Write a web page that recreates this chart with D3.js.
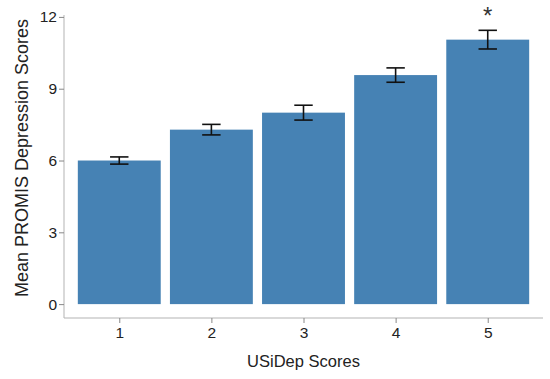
<!DOCTYPE html>
<html>
<head>
<meta charset="utf-8">
<script src="https://cdn.jsdelivr.net/npm/d3@7"></script>
<style>
  body { margin: 0; background: #fff; }
  text { font-family: "Liberation Sans", Arial, sans-serif; }
</style>
</head>
<body>
<div id="chart"></div>
<script>
const categories = ["1", "2", "3", "4", "5"];
const means = [6.0, 7.29, 8.0, 9.57, 11.05];
const errors = [0.15, 0.22, 0.31, 0.3, 0.39];
const yTicks = [0, 3, 6, 9, 12];
const significant = [false, false, false, false, true];

const width = 550, height = 379;
const svg = d3.select("#chart").append("svg")
  .attr("width", width)
  .attr("height", height);

// x in category units (ggplot style expand 0.6)
const x = d3.scaleLinear().domain([0.4, 5.6]).range([64, 543]);
const y = d3.scaleLinear().domain([-0.58, 12.08]).range([318, 15]);
const barW = 0.9, capW = 0.2;

// bars
svg.selectAll("rect.bar")
  .data(means)
  .join("rect")
  .attr("class", "bar")
  .attr("x", (d, i) => x(i + 1 - barW / 2))
  .attr("width", x(barW) - x(0))
  .attr("y", d => y(d))
  .attr("height", d => y(0) - y(d))
  .attr("fill", "#4682b4");

// error bars
const eb = svg.selectAll("g.err").data(means).join("g").attr("class", "err")
  .attr("stroke", "#111").attr("stroke-width", 1.6);
eb.append("line")
  .attr("x1", (d, i) => x(i + 1)).attr("x2", (d, i) => x(i + 1))
  .attr("y1", (d, i) => y(d + errors[i])).attr("y2", (d, i) => y(d - errors[i]));
eb.append("line")
  .attr("x1", (d, i) => x(i + 1 - capW / 2)).attr("x2", (d, i) => x(i + 1 + capW / 2))
  .attr("y1", (d, i) => y(d + errors[i])).attr("y2", (d, i) => y(d + errors[i]));
eb.append("line")
  .attr("x1", (d, i) => x(i + 1 - capW / 2)).attr("x2", (d, i) => x(i + 1 + capW / 2))
  .attr("y1", (d, i) => y(d - errors[i])).attr("y2", (d, i) => y(d - errors[i]));

// significance marker
svg.selectAll("text.sig")
  .data(means.map((d, i) => ({ d, i })).filter(o => significant[o.i]))
  .join("text")
  .attr("class", "sig")
  .attr("x", o => x(o.i + 1))
  .attr("y", o => y(o.d + errors[o.i]) - 6)
  .attr("text-anchor", "middle")
  .attr("font-size", 24)
  .attr("fill", "#333")
  .text("*");

// axes
const axisColor = "#b3b3b3";
const yAxis = svg.append("g")
  .attr("transform", "translate(64,0)")
  .call(d3.axisLeft(y).tickValues(yTicks).tickSize(5).tickPadding(2));
yAxis.select(".domain").attr("stroke", axisColor).attr("d", `M0,${y.range()[0]}V${y.range()[1]}`);

const xAxis = svg.append("g")
  .attr("transform", "translate(0,318)")
  .call(d3.axisBottom(x).tickValues([1, 2, 3, 4, 5])
    .tickFormat((d, i) => categories[i]).tickSize(5).tickPadding(4));
xAxis.select(".domain").attr("stroke", axisColor).attr("d", `M${x.range()[0]},0H${x.range()[1]}`);

svg.selectAll(".tick line").attr("stroke", "#888");
svg.selectAll(".tick text").attr("font-size", 15.5).attr("fill", "#222")
  .attr("font-family", "'Liberation Sans', Arial, sans-serif");

// axis titles
svg.append("text")
  .attr("x", 303.5).attr("y", 367)
  .attr("text-anchor", "middle")
  .attr("font-size", 16.5).attr("fill", "#222")
  .text("USiDep Scores");

svg.append("text")
  .attr("transform", "translate(28,158) rotate(-90)")
  .attr("text-anchor", "middle")
  .attr("font-size", 18).attr("fill", "#222")
  .text("Mean PROMIS Depression Scores");
</script>
</body>
</html>
